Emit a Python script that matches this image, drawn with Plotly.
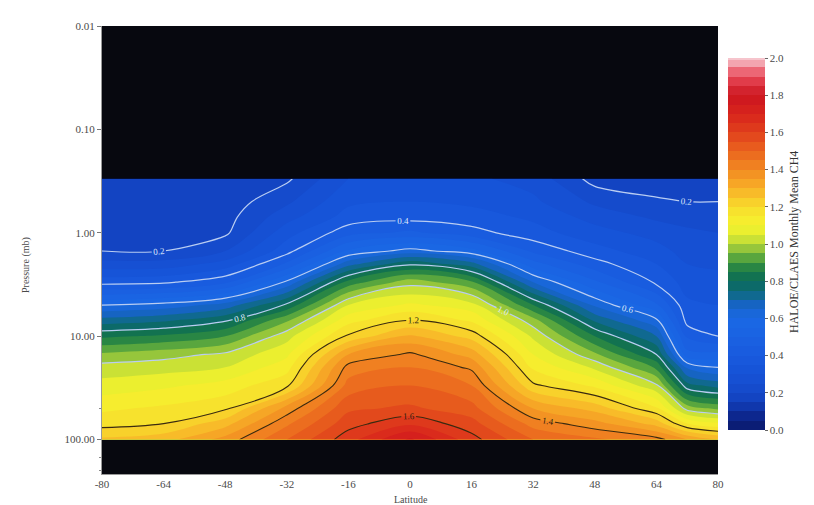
import math
import plotly.graph_objects as go

# ---- data ----
latitude = [-80, -64, -48, -32, -16, 0, 16, 32, 48, 64, 72, 80]
pressure = [0.3, 0.5, 0.7, 1, 1.5, 2, 3, 5, 7, 10, 15, 20, 30, 50, 70, 100]

ch4 = [
    [0.15, 0.15, 0.16, 0.19, 0.30, 0.32, 0.31, 0.28, 0.18, 0.16, 0.16, 0.16],
    [0.16, 0.16, 0.17, 0.24, 0.34, 0.35, 0.34, 0.31, 0.24, 0.21, 0.20, 0.20],
    [0.17, 0.17, 0.18, 0.28, 0.37, 0.38, 0.37, 0.34, 0.28, 0.24, 0.23, 0.22],
    [0.18, 0.18, 0.19, 0.33, 0.43, 0.46, 0.42, 0.37, 0.32, 0.28, 0.26, 0.25],
    [0.20, 0.20, 0.25, 0.38, 0.56, 0.62, 0.57, 0.44, 0.37, 0.32, 0.28, 0.27],
    [0.27, 0.27, 0.32, 0.46, 0.68, 0.79, 0.72, 0.52, 0.42, 0.35, 0.30, 0.29],
    [0.38, 0.39, 0.44, 0.61, 0.87, 0.98, 0.91, 0.65, 0.51, 0.39, 0.33, 0.32],
    [0.60, 0.62, 0.67, 0.81, 1.05, 1.11, 1.07, 0.85, 0.64, 0.51, 0.36, 0.35],
    [0.72, 0.74, 0.79, 0.94, 1.13, 1.20, 1.14, 0.97, 0.74, 0.61, 0.38, 0.38],
    [0.84, 0.86, 0.90, 1.03, 1.21, 1.31, 1.23, 1.04, 0.85, 0.70, 0.44, 0.40],
    [0.96, 0.98, 1.01, 1.09, 1.35, 1.41, 1.33, 1.10, 0.96, 0.80, 0.52, 0.52],
    [1.02, 1.03, 1.05, 1.13, 1.42, 1.45, 1.39, 1.14, 1.04, 0.89, 0.64, 0.60],
    [1.07, 1.09, 1.12, 1.19, 1.47, 1.50, 1.45, 1.21, 1.14, 1.01, 0.77, 0.73],
    [1.14, 1.16, 1.19, 1.37, 1.54, 1.56, 1.52, 1.35, 1.28, 1.16, 0.98, 0.94],
    [1.18, 1.20, 1.28, 1.44, 1.58, 1.64, 1.57, 1.43, 1.37, 1.28, 1.15, 1.11],
    [1.26, 1.28, 1.37, 1.50, 1.63, 1.76, 1.62, 1.50, 1.46, 1.42, 1.35, 1.30],
]

lat_ticks = [-80, -64, -48, -32, -16, 0, 16, 32, 48, 64, 80]
p_ticks = [0.01, 0.1, 1, 10, 100]
p_ticktext = ["0.01", "0.10", "1.00", "10.00", "100.00"]
cb_ticks = [0.0, 0.2, 0.4, 0.6, 0.8, 1.0, 1.2, 1.4, 1.6, 1.8, 2.0]

# colours along 0..2
cs_vals = [0.0, 0.08, 0.15, 0.2, 0.3, 0.4, 0.5, 0.6, 0.68, 0.74, 0.8, 0.86, 0.9,
           0.95, 1.0, 1.05, 1.1, 1.2, 1.3, 1.4, 1.5, 1.6, 1.7, 1.8, 1.9, 2.0]
cs_cols = ["#0a1868", "#0d2890", "#1240bc", "#1448c8", "#1652d6", "#185ade",
           "#1a62e2", "#1a68e4", "#1664c0", "#0e6a80", "#0a6a58", "#1e7c46",
           "#3a9640", "#78b63c", "#b4d63a", "#e0ec30", "#f5f22e", "#f8dc2c",
           "#f8b028", "#f28a22", "#ea641e", "#e0401c", "#d8241c", "#cc1620",
           "#e84858", "#f6c4cc"]
colorscale = [[v / 2.0, c] for v, c in zip(cs_vals, cs_cols)]

FONT = "Liberation Serif"
TXT = "#4a4a4a"

# page body has an 8px margin: figure spans 8..814 x 8..505
W, H = 806, 497
L, T = 94, 18
PW, PH = 616, 448


def px(x):
    return (x - 8 - L) / PW


def py(y):
    return (T + PH - (y - 8)) / PH


fig = go.Figure()

fig.add_trace(go.Contour(
    x=latitude, y=pressure, z=ch4,
    colorscale=colorscale, zmin=0, zmax=2,
    autocontour=False,
    contours=dict(start=0, end=2.0, size=0.05, coloring="fill", showlines=False),
    line=dict(width=0),
    colorbar=dict(
        x=px(728), xanchor="left", xpad=0,
        y=py(244), yanchor="middle", ypad=0,
        len=372, lenmode="pixels",
        thickness=37, thicknessmode="pixels",
        outlinewidth=0,
        tickvals=cb_ticks, ticktext=[f"{v:.1f}" for v in cb_ticks],
        ticks="outside", ticklen=3, tickcolor="#666",
        tickfont=dict(family=FONT, size=11, color=TXT),
    ),
    hoverinfo="skip",
))

fig.add_trace(go.Contour(
    x=latitude, y=pressure, z=ch4,
    autocontour=False,
    contours=dict(start=0.2, end=1.01, size=0.2, coloring="none",
                  showlabels=True, labelformat=".1f",
                  labelfont=dict(family=FONT, size=9, color="#dfe8fa")),
    line=dict(color="#b9cdf2", width=1.2),
    showscale=False, hoverinfo="skip",
))

fig.add_trace(go.Contour(
    x=latitude, y=pressure, z=ch4,
    autocontour=False,
    contours=dict(start=1.2, end=1.61, size=0.2, coloring="none",
                  showlabels=True, labelformat=".1f",
                  labelfont=dict(family=FONT, size=9, color="#2a2010")),
    line=dict(color="#3a2a10", width=1.1),
    showscale=False, hoverinfo="skip",
))

fig.update_layout(
    width=W, height=H,
    margin=dict(l=L, r=W - L - PW, t=T, b=H - T - PH, autoexpand=False),
    paper_bgcolor="white",
    plot_bgcolor="#07080f",
    showlegend=False,
    font=dict(family=FONT, size=11, color=TXT),
    xaxis=dict(
        range=[-80, 80], tickvals=lat_ticks, ticktext=[str(v) for v in lat_ticks],
        showgrid=False, zeroline=False, showline=True, linecolor="#999",
        ticks="", tickfont=dict(family=FONT, size=11, color=TXT),
    ),
    yaxis=dict(
        type="log", range=[math.log10(215), -2],
        tickvals=p_ticks, ticktext=p_ticktext,
        showgrid=False, zeroline=False, showline=True, linecolor="#999",
        ticks="outside", ticklen=4, tickcolor="#777",
        minor=dict(ticks="outside", ticklen=2, tickcolor="#888"),
        tickfont=dict(family=FONT, size=11, color=TXT),
    ),
    annotations=[
        dict(text="Pressure (mb)", xref="paper", yref="paper",
             x=px(18), y=py(265), showarrow=False,
             textangle=-90, font=dict(family=FONT, size=10, color=TXT)),
        dict(text="Latitude", xref="paper", yref="paper",
             x=px(411), y=py(499), showarrow=False, yanchor="middle",
             font=dict(family=FONT, size=10, color=TXT)),
        dict(text="HALOE/CLAES Monthly Mean CH4", xref="paper", yref="paper",
             x=px(803), y=py(242), showarrow=False,
             textangle=-90, font=dict(family=FONT, size=12, color="#333")),
    ],
)

fig.write_html("out.html")
